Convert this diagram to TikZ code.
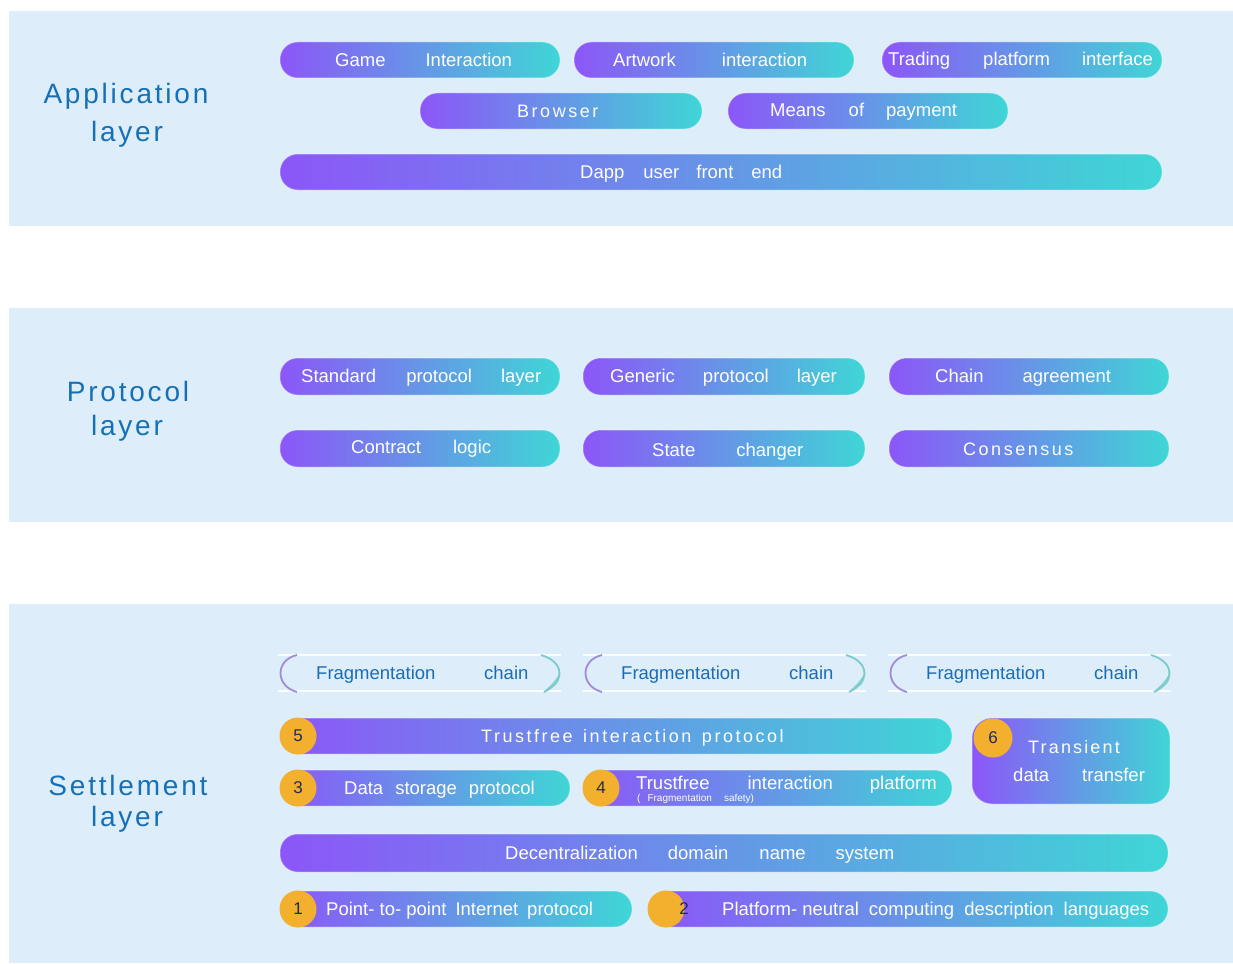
\documentclass[tikz,border=0pt]{standalone}
\usepackage{fontspec}
\setmainfont{Liberation Sans}
\newfontfamily\spacedfont[LetterSpace=14]{Liberation Sans}
\newfontfamily\titlefont[LetterSpace=10]{Liberation Sans}

\definecolor{panelbg}{HTML}{DDEEFA}
\definecolor{pillL}{HTML}{8C56F8}
\definecolor{pillR}{HTML}{3FD6D6}
\definecolor{titleblue}{HTML}{1670B6}
\definecolor{chainblue}{HTML}{1A6CB4}
\definecolor{badge}{HTML}{F2B02E}
\definecolor{badgetext}{HTML}{222A5C}
\definecolor{brkL}{HTML}{A08AD9}
\definecolor{brkR}{HTML}{7CCBCB}

\tikzset{
  panel/.style={fill=panelbg, draw=none},
  pill/.style={rounded corners=17.5pt, left color=pillL, right color=pillR,
    draw=white, draw opacity=0.35, line width=1pt, inner sep=0pt,
    minimum height=36pt},
  ptext/.style={anchor=base west, text=white, inner sep=0pt,
    font=\fontsize{18.5}{20}\selectfont},
  stext/.style={anchor=base west, text=white, inner sep=0pt,
    font=\spacedfont\fontsize{18}{20}\selectfont},
  subtext/.style={anchor=base west, text=white, inner sep=0pt,
    font=\fontsize{10}{11}\selectfont},
  title/.style={anchor=base, text=titleblue, inner sep=0pt,
    font=\titlefont\fontsize{28}{30}\selectfont},
  ctext/.style={anchor=base west, text=chainblue, inner sep=0pt,
    font=\fontsize{18.5}{20}\selectfont},
  badgenode/.style={circle, fill=badge, minimum size=37pt, inner sep=0pt,
    text=badgetext, font=\fontsize{17}{18}\selectfont},
  rail/.style={draw=white, line width=1.6pt, draw opacity=0.9},
  lbrk/.style={draw=brkL, line width=1.8pt},
  rbrk/.style={draw=brkR, line width=1.8pt},
}

% one "Fragmentation chain" strip: rails, brackets and label
\newcommand\fragstrip[2]{%
  \draw[rail] (#1,655) -- (#1+283,655);
  \draw[rail] (#1,691) -- (#1+283,691);
  \draw[lbrk] (#1+19,655) .. controls (#1-3,660) and (#1-3,686) .. (#1+19,692);
  \draw[rbrk] (#1+263,655) .. controls (#1+287,662) and (#1+287,682) .. (#1+266,692);
  \fill[brkR, opacity=0.45] (#1+282,674) .. controls (#1+281,684) .. (#1+266,692)
     .. controls (#1+275,684) .. (#1+282,674) -- cycle;
  \draw[brkR, line width=0.9pt] (#1+282,674) .. controls (#1+275,684) .. (#1+266,692);
  \node[ctext] (#2a) at (#1+38,679.5) {Fragmentation};
  \node[ctext] (#2b) at (#1+206,679.5) {chain};
}

\begin{document}
\begin{tikzpicture}[x=1pt, y=-1pt]
\useasboundingbox (0,0) rectangle (1233,963);
\fill[white] (0,0) rectangle (1233,963);

% layer panels
\path[panel] (9,11) rectangle (1233,226);
\path[panel] (9,308) rectangle (1233,522);
\path[panel] (9,604) rectangle (1233,963);

% layer titles
\node[title] (appA) at (126,104) {Application};
\node[title] (appB) at (127,141) {layer};
\node[title] (proA) at (128,401) {Protocol};
\node[title] (proB) at (127,435) {layer};
\node[title] (setA) at (128,795) {Settlement};
\node[title] (setB) at (127,826) {layer};

% ---------------- application layer ----------------
\node[pill, minimum width=280pt] (gameP)  at (420,60) {};
\node[pill, minimum width=280pt] (artP)   at (714,60) {};
\node[pill, minimum width=280pt] (tradeP) at (1022,60) {};
\node[pill, minimum width=282pt] (browP)  at (561,111) {};
\node[pill, minimum width=280pt] (meansP) at (868,111) {};
\node[pill, minimum width=882pt] (dappP)  at (721,172) {};

\node[ptext] (gameT)  at (335,67) {Game\hspace{40pt}Interaction};
\node[ptext] (artT)   at (613,66.5) {Artwork\hspace{46pt}interaction};
\node[ptext] (tradeT) at (888,65.5) {Trading\hspace{33pt}platform\hspace{32pt}interface};
\node[stext] (browT)  at (517,117.5) {Browser};
\node[ptext] (meansT) at (770,117) {Means\hspace{23pt}of\hspace{22pt}payment};
\node[ptext] (dappT)  at (580,178) {Dapp\hspace{19pt}user\hspace{17pt}front\hspace{18pt}end};

% ---------------- protocol layer ----------------
\node[pill, minimum width=280pt, minimum height=37pt] (stdP)   at (420,376.5) {};
\node[pill, minimum width=282pt, minimum height=37pt] (genP)   at (724,376.5) {};
\node[pill, minimum width=280pt, minimum height=37pt] (chainP) at (1029,376.5) {};
\node[pill, minimum width=280pt, minimum height=37pt] (contrP) at (420,448.5) {};
\node[pill, minimum width=282pt, minimum height=37pt] (stateP) at (724,448.5) {};
\node[pill, minimum width=280pt, minimum height=37pt] (consP)  at (1029,448.5) {};

\node[ptext] (stdT)   at (301,382.5) {Standard\hspace{30pt}protocol\hspace{29pt}layer};
\node[ptext] (genT)   at (610,382.5) {Generic\hspace{28pt}protocol\hspace{28pt}layer};
\node[ptext] (chainT) at (935,382.5) {Chain\hspace{39pt}agreement};
\node[ptext] (contrT) at (351,453.5) {Contract\hspace{32pt}logic};
\node[ptext] (stateT) at (652,456) {State\hspace{41pt}changer};
\node[stext] (consT)  at (963,455) {Consensus};

% ---------------- settlement layer ----------------
\fragstrip{278}{fragA}
\fragstrip{583}{fragB}
\fragstrip{888}{fragC}

\node[pill, minimum width=672pt] (tipP)  at (616,736) {};
\node[pill, minimum width=290pt] (dspP)  at (425,788) {};
\node[pill, minimum width=369pt] (tiplP) at (767.5,788) {};
\node[rounded corners=20pt, left color=pillL, right color=pillR,
      draw=white, draw opacity=0.35, line width=1pt, inner sep=0pt,
      minimum width=198pt, minimum height=86pt] (tdtP) at (1071,761) {};
\node[pill, minimum width=888pt, minimum height=38pt] (dnsP) at (724,853) {};
\node[pill, minimum width=352pt] (p2pP) at (456,909) {};
\node[pill, minimum width=520pt] (pnP)  at (908,909) {};

\node[stext, font=\fontsize{18}{20}\spacedfont\addfontfeature{LetterSpace=14}] (tipT) at (481,742.5) {Trustfree\hspace{3pt} interaction\hspace{3pt} protocol};
\node[ptext] (dspT)  at (344,794) {Data\hspace{12pt}storage\hspace{12pt}protocol};
\node[ptext] (tiplT) at (636,789) {Trustfree\hspace{38pt}interaction\hspace{37pt}platform};
\node[subtext] (tiplS) at (637,801) {(\hspace{7pt}Fragmentation\hspace{12pt}safety)};
\node[stext, font=\fontsize{18}{20}\spacedfont\addfontfeature{LetterSpace=12}] (tdtA) at (1028,753.5) {Transient};
\node[ptext] (tdtB) at (1013,781.5) {data\hspace{33pt}transfer};
\node[ptext] (dnsT) at (505,859) {Decentralization\hspace{30pt}domain\hspace{31pt}name\hspace{30pt}system};
\node[ptext] (p2pT) at (326,915.5) {Point-~to-~point\hspace{9pt}Internet\hspace{9pt}protocol};
\node[ptext] (pnT)  at (722,915.5) {Platform-~neutral\hspace{10pt}computing\hspace{10pt}description\hspace{10pt}languages};

% numbered badges
\node[badgenode] (b5) at (298,736) {5};
\node[badgenode] (b3) at (298,788) {3};
\node[badgenode] (b4) at (601,788) {4};
\node[badgenode, minimum size=39pt] (b6) at (993,738) {6};
\node[badgenode] (b1) at (298,909) {1};
\node[badgenode] (b2) at (666,909) {};
\node[text=badgetext, font=\fontsize{17}{18}\selectfont, inner sep=0pt] (b2n) at (684,909) {2};

\end{tikzpicture}
\end{document}
